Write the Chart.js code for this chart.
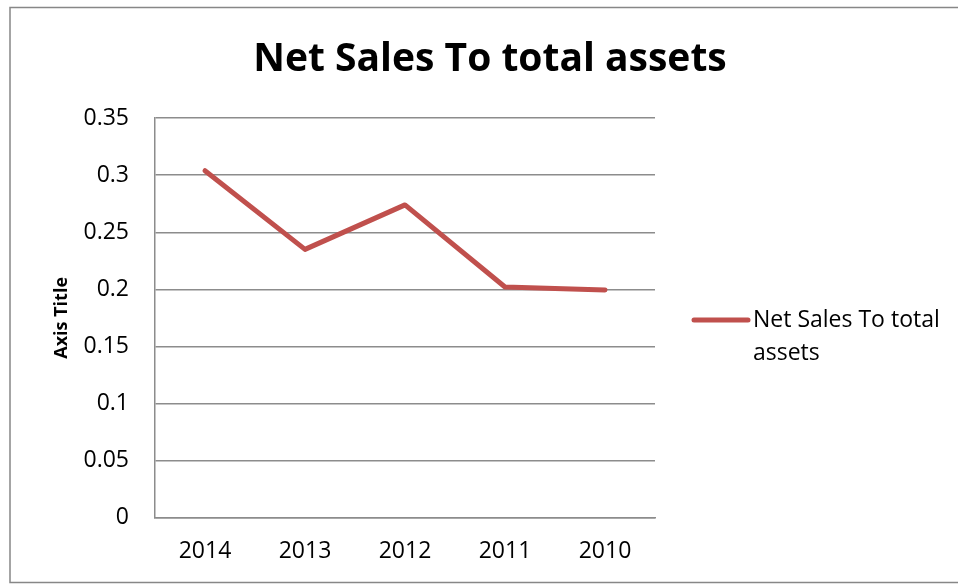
<!DOCTYPE html>
<html>
<head>
<meta charset="utf-8">
<script src="https://cdn.jsdelivr.net/npm/chart.js@4"></script>
<style>
  html, body { margin: 0; padding: 0; background: #fff; }
  #wrap { width: 958px; height: 584px; }
</style>
</head>
<body>
<div id="wrap"><canvas id="myChart" width="958" height="584"></canvas></div>
<script>
var years = ['2014', '2013', '2012', '2011', '2010'];
var ratio = [0.304, 0.235, 0.274, 0.202, 0.1995];
var seriesName = 'Net Sales To total assets';
var legendLines = ['Net Sales To total', 'assets'];
var lineColor = '#C0504D';
var gridColor = '#8c8c8c';

// frame round the whole chart, like the Excel chart border
var framePlugin = {
  id: 'frame',
  beforeDraw: function (chart) {
    var c = chart.ctx;
    c.save();
    c.fillStyle = '#fff';
    c.fillRect(0, 0, chart.width, chart.height);
    c.strokeStyle = '#878787';
    c.lineWidth = 1.5;
    c.strokeRect(10, 7.5, 960, 575);
    c.restore();
  }
};

// legend on the right, with the label wrapped on two lines
var sideLegend = {
  id: 'sideLegend',
  afterDraw: function (chart) {
    var c = chart.ctx;
    var x0 = 694, y0 = 320;
    c.save();
    c.strokeStyle = lineColor;
    c.lineWidth = 5;
    c.lineCap = 'round';
    c.beginPath();
    c.moveTo(x0, y0);
    c.lineTo(x0 + 54, y0);
    c.stroke();
    c.fillStyle = '#000';
    c.font = '23px "Open Sans"';
    c.textBaseline = 'middle';
    legendLines.forEach(function (t, i) {
      c.fillText(t, x0 + 59, y0 + i * 33);
    });
    c.restore();
  }
};

var ctx = document.getElementById('myChart').getContext('2d');
var myChart = new Chart(ctx, {
  type: 'line',
  data: {
    labels: years,
    datasets: [{
      label: seriesName,
      data: ratio,
      borderColor: lineColor,
      backgroundColor: lineColor,
      borderWidth: 5,
      borderCapStyle: 'round',
      borderJoinStyle: 'round',
      pointRadius: 0,
      tension: 0,
      fill: false
    }]
  },
  options: {
    responsive: false,
    animation: false,
    layout: { padding: { left: 22, right: 0, top: 0, bottom: 0 } },
    plugins: {
      legend: { display: false },
      tooltip: { enabled: false },
      title: {
        display: true,
        text: seriesName,
        color: '#000',
        font: { family: 'Open Sans', size: 39, weight: 'bold', lineHeight: 1.2 },
        padding: { top: 36.2, bottom: 35.2 }
      }
    },
    scales: {
      x: {
        offset: true,
        grid: { display: false, drawTicks: false },
        border: { display: true, color: gridColor, width: 1.5 },
        ticks: { color: '#000', padding: 20, font: { family: 'Open Sans', size: 23 } },
        afterFit: function (s) { s.height = 66.5; }
      },
      y: {
        min: 0,
        max: 0.35,
        ticks: {
          stepSize: 0.05,
          color: '#000',
          padding: 26,
          font: { family: 'Open Sans', size: 23 },
          callback: function (v) { return +v.toFixed(2); }
        },
        grid: { color: gridColor, lineWidth: 1.5, drawTicks: false },
        border: { display: true, color: gridColor, width: 1.5 },
        title: {
          display: true,
          text: 'Axis Title',
          color: '#000',
          font: { family: 'Open Sans', size: 18, weight: 'bold', lineHeight: 1.2 },
          padding: { top: 29, bottom: 0 }
        },
        afterFit: function (s) { s.width = 133; }
      },
      side: {
        position: 'right',
        display: true,
        grid: { display: false },
        border: { display: false },
        ticks: { display: false },
        afterFit: function (s) { s.width = 303; }
      }
    }
  },
  plugins: [framePlugin, sideLegend]
});
</script>
</body>
</html>
